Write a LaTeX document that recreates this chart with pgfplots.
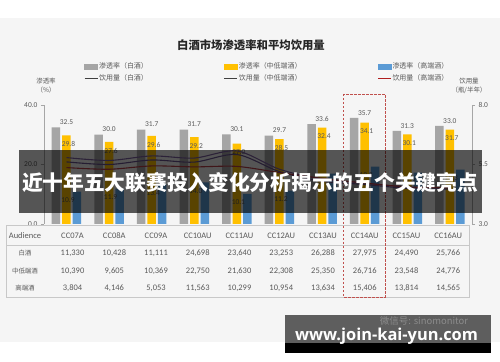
\documentclass[border=0pt]{standalone}
\usepackage{pgfplots}
\usepackage{pgfplotstable}
\pgfplotsset{compat=1.18}
\usepackage{fontspec}
\setmainfont{Carlito}
\newfontfamily\cjk{Noto Sans CJK SC}
\newfontfamily\wm{Open Sans}
\definecolor{bg}{HTML}{F5F5F5}
\definecolor{cgray}{HTML}{A5A5A5}
\definecolor{cyellow}{HTML}{FFC000}
\definecolor{cblue}{HTML}{5B9BD5}
\definecolor{txt}{HTML}{595959}
\definecolor{titlec}{HTML}{262626}
\definecolor{axisgray}{HTML}{A6A6A6}
\definecolor{tabline}{HTML}{C8C8C8}
\definecolor{lpurple}{HTML}{8064A2}
\definecolor{lpurple2}{HTML}{6B5590}
\definecolor{lred}{HTML}{B8404A}
\definecolor{legdark}{HTML}{404040}
\definecolor{legred}{HTML}{B01E1E}
\definecolor{dashred}{HTML}{C0504D}
\definecolor{wmbox}{HTML}{5E5E5E}
\definecolor{wmtext}{HTML}{8C8C8C}

\pgfplotstableread{
idx gray yellow blue la lb lc
0 32.5 29.8 10.9 5.79 5.61 5.37
1 30.0 27.6 11.9 5.67 5.50 5.30
2 31.7 29.6 13.4 5.86 5.69 5.44
3 31.7 29.2 14.0 5.77 5.60 5.40
4 30.1 27.0 10.1 6.07 5.92 5.42
5 29.7 28.5 11.2 5.30 5.20 5.16
6 33.6 32.4 16.9 4.88 4.80 4.92
7 35.7 34.1 19.3 4.72 4.66 4.72
8 31.3 30.1 17.3 4.55 4.50 4.56
9 33.0 31.7 18.3 4.52 4.47 4.52
}\datatable

\tikzset{barlab/.style={font=\fontsize{7.5}{8}\selectfont, text=txt, inner sep=1bp}}
\pgfplotsset{
  common/.style={
    at={(44bp,138bp)}, anchor=south west, scale only axis,
    width=428bp, height=119bp, xmin=-0.528, xmax=9.52,
    axis x line=none, clip=false,
    axis line style={draw=axisgray, line width=0.6bp},
    major tick style={draw=axisgray, line width=0.6bp},
    tick align=outside, major tick length=3bp,
    /pgf/number format/assume math mode=true,
    yticklabel style={font=\fontsize{7.5}{8}\selectfont, text=txt},
    yticklabel={\pgfmathprintnumber[fixed,fixed zerofill,precision=1]{\tick}},
  },
}

\begin{document}
\begin{tikzpicture}
\path[use as bounding box] (0,0) rectangle (500bp,362bp);
\fill[white] (0,0) rectangle (500bp,362bp);
\begin{scope}[x=1bp,y=-1bp,yshift=362bp]
  \fill[bg] (0,18) rectangle (500,342);
  \node[font=\cjk\bfseries\fontsize{11.4}{13}\selectfont, text=titlec] at (251,45) {白酒市场渗透率和平均饮用量};
  \node[font=\cjk\fontsize{6.5}{9}\selectfont, text=txt, align=center] at (46,85.5) {渗透率\\（\%）};
  \node[font=\cjk\fontsize{6.5}{9}\selectfont, text=txt, align=center] at (469,85.5) {饮用量\\（瓶/半年）};
\end{scope}

\begin{axis}[common, ymin=0, ymax=40, axis y line*=left, ytick={0,20,40}]
\addplot[ybar, bar width=8.5bp, bar shift=-10.5bp, fill=cgray, draw=none,
  nodes near coords={\pgfmathprintnumber[fixed,fixed zerofill,precision=1]{\pgfplotspointmeta}}, point meta=y,
  every node near coord/.append style={barlab, anchor=south, yshift=1.5bp}]
  table[x=idx,y=gray]{\datatable};
\addplot[ybar, bar width=8.5bp, bar shift=0bp, fill=cyellow, draw=none,
  nodes near coords={\pgfmathprintnumber[fixed,fixed zerofill,precision=1]{\pgfplotspointmeta}}, point meta=y,
  every node near coord/.append style={barlab, anchor=north, yshift=-5bp, xshift=2bp}]
  table[x=idx,y=yellow]{\datatable};
\addplot[ybar, bar width=8.5bp, bar shift=10.5bp, fill=cblue, draw=none,
  nodes near coords={\pgfmathprintnumber[fixed,fixed zerofill,precision=1]{\pgfplotspointmeta}}, point meta=y,
  every node near coord/.append style={barlab, anchor=north, yshift=-5bp, xshift=1.5bp}]
  table[x=idx,y=blue]{\datatable};
\end{axis}

\begin{axis}[common, ymin=3, ymax=8, axis y line*=right, ytick={3,5.5,8},
  legend columns=3,
  legend style={draw=none, fill=none, at={(0.0935,1.361)}, anchor=north west,
    font=\cjk\fontsize{7}{8}\selectfont, text=txt, inner sep=0pt, row sep=2.5bp,
    nodes={inner sep=1bp, text height=5.5bp, text depth=1.5bp},
    /tikz/every even column/.append style={column sep=75bp}}]
\addlegendimage{legend image code/.code={\fill[cgray] (0bp,-2.5bp) rectangle (13bp,2.5bp);}}
\addlegendimage{legend image code/.code={\fill[cyellow] (0bp,-2.5bp) rectangle (13bp,2.5bp);}}
\addlegendimage{legend image code/.code={\fill[cblue] (0bp,-2.5bp) rectangle (13bp,2.5bp);}}
\addlegendimage{legend image code/.code={\draw[legdark, line width=0.9bp] (0bp,0bp) -- (13bp,0bp);}}
\addlegendimage{legend image code/.code={\draw[legdark, line width=0.9bp] (0bp,0bp) -- (13bp,0bp);}}
\addlegendimage{legend image code/.code={\draw[legred, line width=0.9bp] (0bp,0bp) -- (13bp,0bp);}}
\addplot[smooth, color=lpurple, line width=1.1bp, forget plot] table[x=idx,y=la]{\datatable};
\addplot[smooth, color=lpurple2, line width=1.1bp, forget plot] table[x=idx,y=lb]{\datatable};
\addplot[smooth, color=lred, line width=1.1bp, forget plot] table[x=idx,y=lc]{\datatable};
\legend{渗透率（白酒）,渗透率（中低端酒）,渗透率（高端酒）,饮用量（白酒）,饮用量（中低端酒）,饮用量（高端酒）}
\end{axis}

\begin{scope}[x=1bp,y=-1bp,yshift=362bp]
  % data table
  \draw[tabline, line width=0.6bp] (6,225) rectangle (469,297);
  \draw[tabline, line width=0.6bp] (6,245) -- (469,245);
  \begin{scope}[every node/.style={font=\fontsize{8.5}{9}\selectfont, text=txt}]
    \node at (25,236) {Audience};
    \foreach \n [count=\i from 0] in {CC07A,CC08A,CC09A,CC10AU,CC11AU,CC12AU,CC13AU,CC14AU,CC15AU,CC16AU}
      \node at ({72.5+41.75*\i},236) {\n};
    \foreach \n [count=\i from 0] in {{11,330},{10,428},{11,111},{24,698},{23,640},{23,253},{26,288},{27,975},{24,490},{25,766}}
      \node at ({72.5+41.75*\i},253) {\n};
    \foreach \n [count=\i from 0] in {{10,390},{9,605},{10,369},{22,750},{21,630},{22,308},{25,350},{26,716},{23,548},{24,776}}
      \node at ({72.5+41.75*\i},271) {\n};
    \foreach \n [count=\i from 0] in {{3,804},{4,146},{5,053},{11,563},{10,299},{10,954},{13,634},{15,406},{13,814},{14,565}}
      \node at ({72.5+41.75*\i},288) {\n};
  \end{scope}
  \begin{scope}[every node/.style={font=\cjk\fontsize{6.5}{7}\selectfont, text=txt}]
    \node at (25,253) {白酒};
    \node at (25,271) {中低端酒};
    \node at (25,288) {高端酒};
  \end{scope}
  \draw[dashred, line width=0.9bp, dash pattern=on 2.5bp off 1.5bp] (343,94) rectangle (385,297);

  % overlay banner
  \fill[black, fill opacity=0.65] (19,150) rectangle (482,213);
  \node[text=white, font=\cjk\bfseries\fontsize{20.8}{24}\selectfont] at (250,183) {近十年五大联赛投入变化分析揭示的五个关键亮点};

  % watermark
  \fill[wmbox] (285,315) rectangle (491,343);
  \fill[black] (285,343) rectangle (491,353);
  \node[text=wmtext, font=\cjk\fontsize{9.5}{10}\selectfont] at (424,321) {微信号: sinomonitor};
  \node[text=white, anchor=base, inner sep=0pt] at (386.5,341) {\resizebox{183bp}{!}{\wm\bfseries www.join-kai-yun.com}};
\end{scope}
\end{tikzpicture}
\end{document}
